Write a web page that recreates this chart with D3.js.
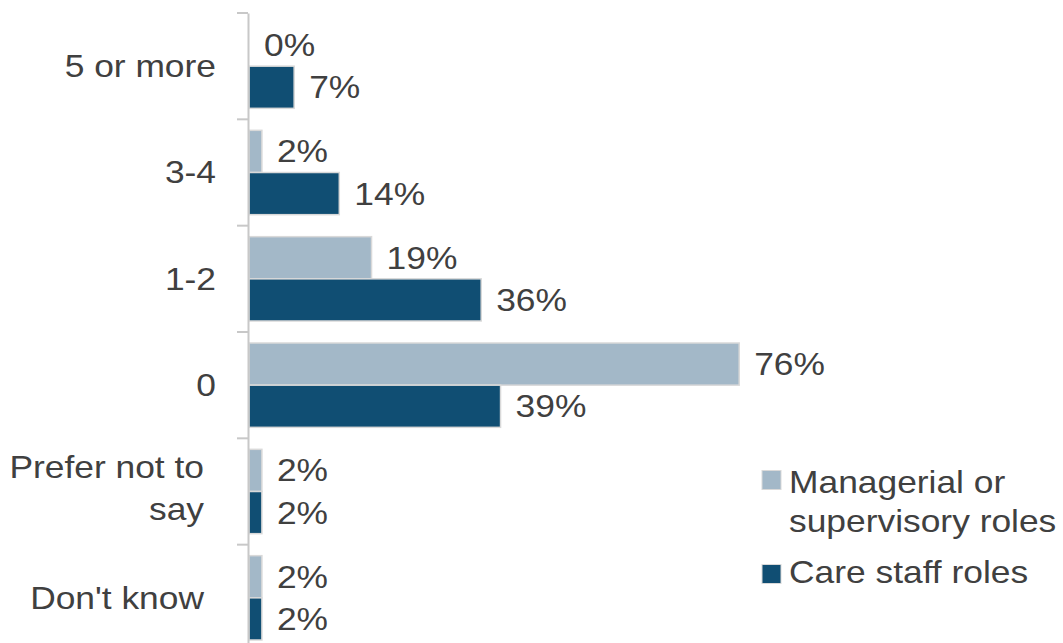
<!DOCTYPE html>
<html>
<head>
<meta charset="utf-8">
<script src="https://cdn.jsdelivr.net/npm/d3@7"></script>
<style>
  html, body { margin: 0; padding: 0; background: #ffffff; }
  svg { display: block; font-family: "Liberation Sans", Arial, sans-serif; }
</style>
</head>
<body>
<svg id="chart" width="1063" height="643"></svg>
<script>
// Number of incidents, by role group (percent of respondents)
const categories = ["5 or more", "3-4", "1-2", "0", "Prefer not to say", "Don't know"];
const categoryLines = [["5 or more"], ["3-4"], ["1-2"], ["0"], ["Prefer not to", "say"], ["Don't know"]];
const seriesNames = ["Managerial or supervisory roles", "Care staff roles"];
const legendLines = [["Managerial or", "supervisory roles"], ["Care staff roles"]];
const managerial = [0, 2, 19, 76, 2, 2];
const careStaff = [7, 14, 36, 39, 2, 2];
const colors = ["#a3b8c8", "#104e73"];

const svg = d3.select("#chart");
const textColor = "#404040";
const fontSize = 30.5;
const stretch = 1.16;   // horizontal stretch of all labels

// Place a text element at (x, y), horizontally stretched about its anchor
function place(sel, x, y) {
  sel.attr("x", 0).attr("y", 0)
    .attr("transform", `translate(${x},${y}) scale(${stretch},1)`);
  return sel;
}

const axisX = 248;
const y = d3.scaleBand().domain(categories).range([13, 651]).padding(0);
const inner = d3.scaleBand().domain(seriesNames).range([11, y.bandwidth() - 11]).padding(0);
const x = d3.scaleLinear().domain([0, 100]).range([axisX + 1, axisX + 1 + 645]);

const rows = categories.map((c, i) => ({
  cat: c,
  lines: categoryLines[i],
  values: [managerial[i], careStaff[i]]
}));

// Bars and value labels
const groups = svg.selectAll("g.row").data(rows).join("g")
  .attr("class", "row")
  .attr("transform", d => `translate(0,${y(d.cat)})`);

groups.each(function(d) {
  const g = d3.select(this);
  d.values.forEach((v, k) => {
    const by = inner(seriesNames[k]);
    const bh = inner.bandwidth();
    if (v > 0) {
      g.append("rect")
        .attr("x", x(0))
        .attr("y", by)
        .attr("width", x(v) - x(0))
        .attr("height", bh)
        .attr("fill", colors[k])
        .attr("stroke", "#d9d9d9")
        .attr("stroke-width", 1.5);
    }
    place(g.append("text"), x(v) + 15, by + bh / 2)
      .attr("dy", "0.36em")
      .attr("fill", textColor)
      .attr("font-size", fontSize)
      .text(v + "%");
  });
});

// Category axis line
const axis = svg.append("g")
  .attr("transform", `translate(${axisX},0)`)
  .call(d3.axisLeft(y).tickSize(0).tickFormat(""));
axis.select(".domain").attr("stroke", "#c8c8c8").attr("stroke-width", 2);

// Tick marks at band boundaries
const bounds = categories.map(c => y(c)).concat([y(categories[categories.length - 1]) + y.bandwidth()]);
svg.append("g").selectAll("line").data(bounds).join("line")
  .attr("x1", axisX - 11).attr("x2", axisX)
  .attr("y1", d => d).attr("y2", d => d)
  .attr("stroke", "#c8c8c8").attr("stroke-width", 2);

// Category labels: long labels sit in a narrower, wrapped label box
const labelRight = axisX - 32;
const labelRightWide = axisX - 44;
const catLabels = svg.append("g").selectAll("text").data(rows).join("text")
  .attr("text-anchor", "end")
  .attr("fill", textColor)
  .attr("font-size", fontSize);
catLabels.each(function(d) {
  const t = d3.select(this);
  const n = d.lines.length;
  const lineH = 42;
  const cy = y(d.cat) + y.bandwidth() / 2 - (n - 1) * 3;
  d.lines.forEach((line, j) => {
    t.append("tspan")
      .attr("x", 0)
      .attr("y", (j - (n - 1) / 2) * lineH)
      .attr("dy", "0.36em")
      .text(line);
  });
  const w = this.getBBox().width * stretch;
  place(t, w > 160 ? labelRightWide : labelRight, cy);
  t.selectAll("tspan").attr("x", 0);
});

// Legend
const legend = svg.append("g").attr("transform", "translate(762,0)");
const swatchY = [480, 574];
const legendBaselines = [[493, 532], [583]];
legendLines.forEach((lines, k) => {
  legend.append("rect")
    .attr("x", 0).attr("y", swatchY[k] - 9.5)
    .attr("width", 19).attr("height", 19)
    .attr("fill", colors[k])
    .attr("stroke", "#d9d9d9").attr("stroke-width", 1);
  lines.forEach((line, j) => {
    place(legend.append("text"), 27, legendBaselines[k][j])
      .attr("fill", textColor)
      .attr("font-size", fontSize)
      .text(line);
  });
});
</script>
</body>
</html>
